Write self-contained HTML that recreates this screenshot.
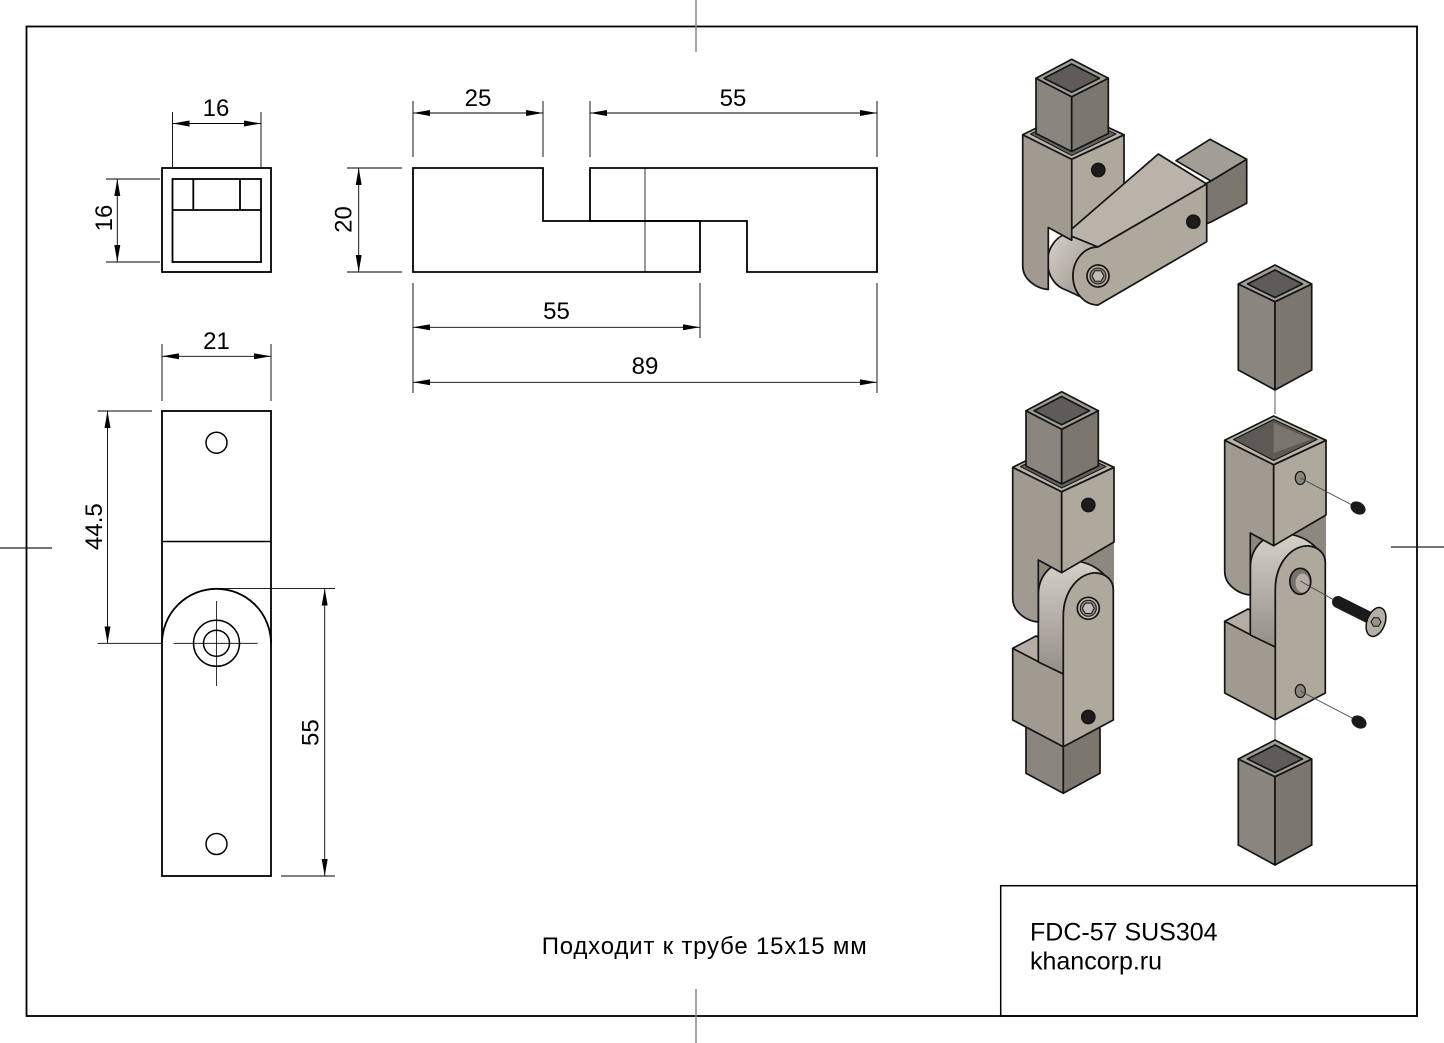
<!DOCTYPE html>
<html><head><meta charset="utf-8">
<style>
html,body{margin:0;padding:0;background:#fff;}
svg{display:block;}
text{font-family:"Liberation Sans",Arial,sans-serif;fill:#000;}
</style></head>
<body>
<svg width="1444" height="1043" viewBox="0 0 1444 1043" xmlns="http://www.w3.org/2000/svg">
<defs>
<marker id="ar" viewBox="0 0 17 6" refX="17" refY="3" markerWidth="17" markerHeight="6" markerUnits="userSpaceOnUse" orient="auto-start-reverse"><path d="M0,0 L17,3 L0,6 Z" fill="#000"/></marker>
<linearGradient id="band" x1="0" y1="0" x2="0" y2="1"><stop offset="0" stop-color="#d6d1c8"/><stop offset="1" stop-color="#948f86"/></linearGradient>
<linearGradient id="bandH" x1="0" y1="0" x2="1" y2="1"><stop offset="0" stop-color="#d8d3ca"/><stop offset="1" stop-color="#8f8a81"/></linearGradient>
</defs>
<rect width="1444" height="1043" fill="#fff"/>

<!-- border -->
<rect x="26.5" y="26.5" width="1390.5" height="989.5" fill="none" stroke="#000" stroke-width="1.8"/>
<rect x="1000.7" y="885.7" width="416.3" height="130.3" fill="none" stroke="#000" stroke-width="1.5"/>
<!-- centre marks -->
<g stroke="#888" stroke-width="1.5">
<line x1="696" y1="0" x2="696" y2="52"/>
<line x1="696" y1="989" x2="696" y2="1043"/>
</g>
<g stroke="#222" stroke-width="1.2">
<line x1="0" y1="548" x2="52" y2="548"/>
<line x1="1391" y1="547" x2="1444" y2="547"/>
</g>

<!-- ===== top-left square view ===== -->
<g fill="none" stroke="#000" stroke-width="1.8">
<rect x="162" y="168" width="109" height="104"/>
<rect x="172.5" y="179" width="88.5" height="83"/>
<line x1="193.3" y1="179" x2="193.3" y2="210"/>
<line x1="240" y1="179" x2="240" y2="210"/>
<line x1="172.5" y1="210" x2="261" y2="210"/>
</g>
<g stroke="#000" stroke-width="0.9" fill="none">
<line x1="172.5" y1="112" x2="172.5" y2="167"/>
<line x1="261" y1="112" x2="261" y2="167"/>
<line x1="172.5" y1="123.5" x2="261" y2="123.5" marker-start="url(#ar)" marker-end="url(#ar)"/>
<line x1="106" y1="179" x2="160" y2="179"/>
<line x1="106" y1="262" x2="160" y2="262"/>
<line x1="117.3" y1="179" x2="117.3" y2="262" marker-start="url(#ar)" marker-end="url(#ar)"/>
</g>
<text x="216" y="116" font-size="24" text-anchor="middle">16</text>
<text transform="translate(112,218) rotate(-90)" font-size="24" text-anchor="middle">16</text>

<!-- ===== side view ===== -->
<g fill="none" stroke="#000" stroke-width="1.8" stroke-linejoin="miter">
<path d="M413,168 L543,168 L543,221 L700,221 L700,272 L413,272 Z"/>
<path d="M590,221 L590,168 L877,168 L877,272 L747,272 L747,221 Z"/>
</g>
<line x1="645" y1="168" x2="645" y2="272" stroke="#000" stroke-width="0.8"/>
<g stroke="#000" stroke-width="0.9" fill="none">
<line x1="413" y1="101" x2="413" y2="157"/>
<line x1="543" y1="101" x2="543" y2="157"/>
<line x1="413" y1="113" x2="543" y2="113" marker-start="url(#ar)" marker-end="url(#ar)"/>
<line x1="590" y1="101" x2="590" y2="157"/>
<line x1="877" y1="101" x2="877" y2="157"/>
<line x1="590" y1="113" x2="877" y2="113" marker-start="url(#ar)" marker-end="url(#ar)"/>
<line x1="347" y1="168" x2="402" y2="168"/>
<line x1="347" y1="272" x2="402" y2="272"/>
<line x1="358.7" y1="168" x2="358.7" y2="272" marker-start="url(#ar)" marker-end="url(#ar)"/>
<line x1="413" y1="283" x2="413" y2="393"/>
<line x1="700" y1="283" x2="700" y2="338"/>
<line x1="877" y1="283" x2="877" y2="393"/>
<line x1="413" y1="327.3" x2="700" y2="327.3" marker-start="url(#ar)" marker-end="url(#ar)"/>
<line x1="413" y1="382.3" x2="877" y2="382.3" marker-start="url(#ar)" marker-end="url(#ar)"/>
</g>
<text x="478" y="106" font-size="24" text-anchor="middle">25</text>
<text x="733" y="106" font-size="24" text-anchor="middle">55</text>
<text transform="translate(351.5,219.5) rotate(-90)" font-size="24" text-anchor="middle">20</text>
<text x="556.5" y="319" font-size="24" text-anchor="middle">55</text>
<text x="645" y="374" font-size="24" text-anchor="middle">89</text>

<!-- ===== bottom-left view ===== -->
<g fill="none" stroke="#000" stroke-width="1.8">
<rect x="162" y="411" width="109" height="465"/>
<line x1="162" y1="541.5" x2="271" y2="541.5" stroke-width="1.5"/>
<path d="M162,643.3 A54.5,54.5 0 0 1 271,643.3"/>
<circle cx="216.5" cy="442.7" r="10.5" stroke-width="1.5"/>
<circle cx="216.5" cy="844" r="10.5" stroke-width="1.5"/>
<circle cx="216.5" cy="643.3" r="23" stroke-width="1.5"/>
<circle cx="216.5" cy="643.3" r="13" stroke-width="1.5"/>
</g>
<g stroke="#000" stroke-width="0.8" fill="none">
<line x1="173.5" y1="643.3" x2="257.7" y2="643.3"/>
<line x1="216.5" y1="601" x2="216.5" y2="686"/>
</g>
<g stroke="#000" stroke-width="0.9" fill="none">
<line x1="162" y1="344" x2="162" y2="401"/>
<line x1="271" y1="344" x2="271" y2="401"/>
<line x1="162" y1="356.3" x2="271" y2="356.3" marker-start="url(#ar)" marker-end="url(#ar)"/>
<line x1="97.6" y1="411" x2="152" y2="411"/>
<line x1="97.6" y1="643.3" x2="162" y2="643.3"/>
<line x1="107.5" y1="411" x2="107.5" y2="643.3" marker-start="url(#ar)" marker-end="url(#ar)"/>
<line x1="216.5" y1="588.6" x2="335" y2="588.6"/>
<line x1="281" y1="876" x2="335" y2="876"/>
<line x1="324.7" y1="588.6" x2="324.7" y2="876" marker-start="url(#ar)" marker-end="url(#ar)"/>
</g>
<text x="216.5" y="349" font-size="24" text-anchor="middle">21</text>
<text transform="translate(102,526.6) rotate(-90)" font-size="24" text-anchor="middle">44.5</text>
<text transform="translate(318.5,732.6) rotate(-90)" font-size="24" text-anchor="middle">55</text>

<!-- ===== text ===== -->
<text x="541.7" y="954" font-size="24" textLength="325" lengthAdjust="spacing">Подходит к трубе 15x15 мм</text>
<text x="1030" y="940.7" font-size="25">FDC-57 SUS304</text>
<text x="1030" y="969.3" font-size="25">khancorp.ru</text>

<!-- ===== Render 1 (corner) ===== -->
<g stroke="#151515" stroke-width="1.7" stroke-linejoin="round">
<path d="M1176,160.7 L1210,139.3 L1246.7,159.3 L1211,181 Z" fill="#a39e95"/>
<path d="M1206,183.5 L1211,181 L1246.7,159.3 L1246.7,203.3 L1211,222 L1206,224 Z" fill="#7b776f"/>
<path d="M1071.7,159.2 L1124,134.8 L1124,209.5 L1071.7,240.2 Z" fill="#aea89d"/>
<path d="M1066,234 L1158.3,154 L1206.7,184 L1098,247 Z" fill="#b9b3a9"/>
<path d="M1098,247 A25,29 0 0 0 1098,305 L1066,290 A25,29 0 0 1 1066,234 Z" fill="url(#bandH)"/>
<path d="M1098,247 L1206.7,184 L1206.7,241.7 L1098,305 A25,29 0 0 1 1098,247 Z" fill="#aea89d"/>
<circle cx="1098" cy="276" r="11" fill="#b9b3a9"/>
<circle cx="1098" cy="276" r="8" fill="#8f8a81" stroke-width="1"/>
<polygon points="1104,276 1101,281.2 1095,281.2 1092,276 1095,270.8 1101,270.8" fill="#c3beb5" stroke-width="1"/>
<circle cx="1193.3" cy="221.7" r="6.5" fill="#1c1c1c"/>
<path d="M1022.7,134.8 L1071.7,159.2 L1071.7,240.2 L1048.3,227.5 L1048.3,289.5 Q1037,288.5 1029,280.5 Q1022.7,274.5 1022.7,265.5 Z" fill="#a09a90"/>
<path d="M1022.7,134.8 L1071.7,110.5 L1124,134.8 L1071.7,159.2 Z" fill="#bab4aa"/>
<path d="M1030.5,134 L1071.7,113.5 L1116,134 L1071.7,155.5 Z" fill="#66625c" stroke-width="1"/>
<path d="M1036,78.2 L1071.7,96.8 L1071.7,151.5 L1036,133.5 Z" fill="#8a867f"/>
<path d="M1071.7,96.8 L1108.3,78.2 L1108.3,133.5 L1071.7,151.5 Z" fill="#7b776f"/>
<path d="M1071.7,59.2 L1108.3,78.2 L1071.7,96.8 L1036,78.2 Z" fill="#a39e95"/>
<path d="M1071.7,64 L1099.5,78.2 L1071.7,92.3 L1044,78.2 Z" fill="#5f5b56"/>
<circle cx="1098.3" cy="170" r="6.5" fill="#1c1c1c"/>
</g>

<!-- ===== Render 2 (assembled) ===== -->
<g stroke="#151515" stroke-width="1.7" stroke-linejoin="round">
<path d="M1038.3,560 L1061.7,572.7 L1114,542 L1114,600 L1040,645 Z" fill="#8d887f" stroke="none"/>
<path d="M1026,715 L1063.3,733 L1063.3,793.3 L1026,773.3 Z" fill="#8a867f"/>
<path d="M1063.3,733 L1100,715 L1100,773.3 L1063.3,793.3 Z" fill="#7b776f"/>
<path d="M1012.7,648.3 L1063.3,674 L1063.3,746.7 L1012.7,720 Z" fill="#a09a90"/>
<path d="M1012.7,648.3 L1036,636 L1063.3,650 L1038,661.5 Z" fill="#b3ada3"/>
<path d="M1038.3,662 L1038.3,595 C1038.3,575 1052,562 1068,561 C1088,560 1106,570 1113.3,590 C1113.3,580 1106,574 1096.7,573 C1080,572 1063.3,590 1063.3,616.7 L1063.3,674 Z" fill="url(#band)"/>
<path d="M1063.3,616.7 C1063.3,590 1080,572 1096.7,573 C1106,574 1113.3,580 1113.3,590 L1113.3,720 L1063.3,746.7 Z" fill="#aea89d"/>
<circle cx="1088.3" cy="608.3" r="11" fill="#b9b3a9"/>
<circle cx="1088.3" cy="608.3" r="8" fill="#8f8a81" stroke-width="1"/>
<polygon points="1094.3,608.3 1091.3,613.5 1085.3,613.5 1082.3,608.3 1085.3,603.1 1091.3,603.1" fill="#c3beb5" stroke-width="1"/>
<circle cx="1088.3" cy="717" r="6.5" fill="#1c1c1c"/>
<path d="M1012.7,467.3 L1061.7,491.7 L1061.7,572.7 L1038.3,560 L1038.3,622 Q1027,621 1019,613 Q1012.7,607 1012.7,598 Z" fill="#a09a90"/>
<path d="M1061.7,491.7 L1114,467.3 L1114,542 L1061.7,572.7 Z" fill="#aea89d"/>
<path d="M1012.7,467.3 L1061.7,443 L1114,467.3 L1061.7,491.7 Z" fill="#bab4aa"/>
<path d="M1020.5,466.5 L1061.7,446 L1106,466.5 L1061.7,488 Z" fill="#66625c" stroke-width="1"/>
<path d="M1026,410.7 L1061.7,429.3 L1061.7,484 L1026,466 Z" fill="#8a867f"/>
<path d="M1061.7,429.3 L1098.3,410.7 L1098.3,466 L1061.7,484 Z" fill="#7b776f"/>
<path d="M1061.7,391.7 L1098.3,410.7 L1061.7,429.3 L1026,410.7 Z" fill="#a39e95"/>
<path d="M1061.7,396.5 L1089.5,410.7 L1061.7,424.8 L1034,410.7 Z" fill="#5f5b56"/>
<circle cx="1088.3" cy="505" r="6.5" fill="#1c1c1c"/>
</g>

<!-- ===== Render 3 (exploded) ===== -->
<g stroke="#777" stroke-width="1.2">
<line x1="1275" y1="390" x2="1275" y2="414"/>
<line x1="1275" y1="721" x2="1275" y2="742"/>
</g>
<g stroke="#151515" stroke-width="1.7" stroke-linejoin="round">
<path d="M1238.3,284 L1275,301.7 L1275,390 L1238.3,370 Z" fill="#8a867f"/>
<path d="M1275,301.7 L1311.7,284 L1311.7,370 L1275,390 Z" fill="#7b776f"/>
<path d="M1275,265 L1311.7,284 L1275,301.7 L1238.3,284 Z" fill="#a39e95"/>
<path d="M1275,270 L1302.5,284 L1275,297.5 L1247.5,284 Z" fill="#5f5b56"/>
<path d="M1238.3,759 L1275,776.7 L1275,865 L1238.3,845 Z" fill="#8a867f"/>
<path d="M1275,776.7 L1311.7,759 L1311.7,845 L1275,865 Z" fill="#7b776f"/>
<path d="M1275,740 L1311.7,759 L1275,776.7 L1238.3,759 Z" fill="#a39e95"/>
<path d="M1275,745 L1302.5,759 L1275,772.5 L1247.5,759 Z" fill="#5f5b56"/>
</g>
<g transform="translate(212,-27)" stroke="#151515" stroke-width="1.7" stroke-linejoin="round">
<path d="M1038.3,560 L1061.7,572.7 L1114,542 L1114,600 L1040,645 Z" fill="#8d887f" stroke="none"/>
<path d="M1012.7,648.3 L1063.3,674 L1063.3,746.7 L1012.7,720 Z" fill="#a09a90"/>
<path d="M1012.7,648.3 L1036,636 L1063.3,650 L1038,661.5 Z" fill="#b3ada3"/>
<path d="M1038.3,662 L1038.3,595 C1038.3,575 1052,562 1068,561 C1088,560 1106,570 1113.3,590 C1113.3,580 1106,574 1096.7,573 C1080,572 1063.3,590 1063.3,616.7 L1063.3,674 Z" fill="url(#band)"/>
<path d="M1063.3,616.7 C1063.3,590 1080,572 1096.7,573 C1106,574 1113.3,580 1113.3,590 L1113.3,720 L1063.3,746.7 Z" fill="#aea89d"/>
<ellipse cx="1088.3" cy="608.3" rx="10.5" ry="13" fill="#77736c"/>
<ellipse cx="1090.5" cy="610" rx="7" ry="9.5" fill="#b3ada3" stroke="none"/>
<ellipse cx="1088.3" cy="718" rx="5" ry="6.5" fill="#8a857c" stroke-width="1.2"/>
<path d="M1012.7,467.3 L1061.7,491.7 L1061.7,572.7 L1038.3,560 L1038.3,622 Q1027,621 1019,613 Q1012.7,607 1012.7,598 Z" fill="#a09a90"/>
<path d="M1061.7,491.7 L1114,467.3 L1114,542 L1061.7,572.7 Z" fill="#aea89d"/>
<path d="M1012.7,467.3 L1061.7,443 L1114,467.3 L1061.7,491.7 Z" fill="#bab4aa"/>
<path d="M1021.5,466.5 L1061.7,446.5 L1105,466.5 L1061.7,487.5 Z" fill="#5d5a55" stroke-width="1.2"/>
<path d="M1061.7,450 L1061.7,480 L1099,466.5 Z" fill="#7a766f" stroke="none"/>
<ellipse cx="1088.3" cy="505" rx="5" ry="6.5" fill="#8a857c" stroke-width="1.2"/>
</g>
<g stroke="#444" stroke-width="0.9">
<line x1="1300.3" y1="478" x2="1352" y2="505"/>
<line x1="1300.3" y1="581" x2="1334" y2="600"/>
<line x1="1300.3" y1="691" x2="1352" y2="718"/>
</g>
<line x1="1338" y1="602" x2="1368" y2="617" stroke="#1a1a1a" stroke-width="12" stroke-linecap="round"/>
<ellipse cx="1376" cy="622" rx="9" ry="15" transform="rotate(20 1376 622)" fill="#b5afa5" stroke="#111" stroke-width="1.5"/>
<polygon points="1381,622 1378.5,626.3 1373.5,626.3 1371,622 1373.5,617.7 1378.5,617.7" fill="#9a958c" stroke="#111" stroke-width="1"/>
<ellipse cx="1358" cy="508" rx="8" ry="6" transform="rotate(30 1358 508)" fill="#1a1a1a"/>
<ellipse cx="1359" cy="722" rx="8" ry="6" transform="rotate(30 1359 722)" fill="#1a1a1a"/>
</svg>
</body></html>
